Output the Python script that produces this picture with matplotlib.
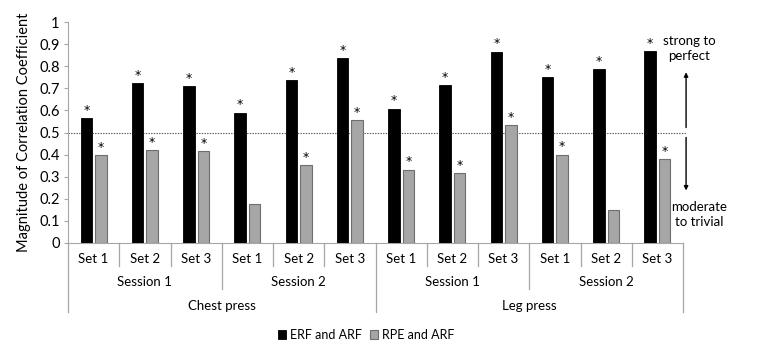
import matplotlib
matplotlib.use("Agg")
import matplotlib.pyplot as plt
from matplotlib import transforms

plt.rcParams['font.family'] = ['Lato', 'DejaVu Sans']

sets = ["Set 1", "Set 2", "Set 3"] * 4
sessions = ["Session 1", "Session 2", "Session 1", "Session 2"]
exercises = ["Chest press", "Leg press"]
erf_arf = [0.565, 0.722, 0.712, 0.590, 0.739, 0.835, 0.608, 0.714, 0.866, 0.749, 0.788, 0.870]
rpe_arf = [0.397, 0.419, 0.416, 0.178, 0.351, 0.556, 0.332, 0.316, 0.533, 0.400, 0.149, 0.381]
erf_sig = [True] * 12
rpe_sig = [True, True, True, False, True, True, True, True, True, True, False, True]
series_names = ["ERF and ARF", "RPE and ARF"]
yticks = [0, 0.1, 0.2, 0.3, 0.4, 0.5, 0.6, 0.7, 0.8, 0.9, 1]
ytick_labels = ["0", "0.1", "0.2", "0.3", "0.4", "0.5", "0.6", "0.7", "0.8", "0.9", "1"]
threshold = 0.5

fig = plt.figure(figsize=(7.61, 3.55), dpi=100)
ax = fig.add_axes([68/761, 1-243/355, 615/761, 221/355])

n = len(erf_arf)
x = list(range(n))
w = 0.225
off = 0.14
gray_line = "#a6a6a6"
b1 = ax.bar([i - off for i in x], erf_arf, width=w, color="black", edgecolor="black", linewidth=0.6, label=series_names[0], zorder=3)
b2 = ax.bar([i + off for i in x], rpe_arf, width=w, color="#a6a6a6", edgecolor="#6f6f6f", linewidth=0.8, label=series_names[1], zorder=3)

for i in x:
    if erf_sig[i]:
        ax.annotate("*", (i - off, erf_arf[i]), xytext=(0, 5.5), textcoords="offset points",
                    ha="center", va="center", fontsize=9, family="DejaVu Sans")
    if rpe_sig[i]:
        ax.annotate("*", (i + off, rpe_arf[i]), xytext=(0, 5.5), textcoords="offset points",
                    ha="center", va="center", fontsize=9, family="DejaVu Sans")

ax.set_xlim(-0.5, n - 0.5)
ax.set_ylim(0, 1)
ax.set_yticks(yticks)
ax.set_yticklabels(ytick_labels, fontsize=10.5)
ax.set_xticks([])
ax.tick_params(axis="y", length=3, color=gray_line, pad=3)
for s in ["top", "right"]:
    ax.spines[s].set_visible(False)
ax.spines["left"].set_color(gray_line)
ax.spines["bottom"].set_color(gray_line)
ax.set_ylabel("Magnitude of Correlation Coefficient", fontsize=10.5, labelpad=6)

# threshold line
ax.plot([-0.5, n - 0.44], [threshold, threshold], ls=(0, (1.2, 1.2)), color="#555555", lw=0.8, clip_on=False, zorder=2)

# arrows
ax.annotate("", xy=(n - 0.44, 0.785), xytext=(n - 0.44, 0.51),
            arrowprops=dict(arrowstyle="-|>", color="black", lw=1, mutation_scale=6), annotation_clip=False)
ax.annotate("", xy=(n - 0.44, 0.225), xytext=(n - 0.44, 0.49),
            arrowprops=dict(arrowstyle="-|>", color="black", lw=1, mutation_scale=6), annotation_clip=False)
ax.text(n - 0.38, 0.878, "strong to\nperfect", ha="center", va="center", fontsize=9.5, linespacing=1.3)
ax.text(n - 0.19, 0.13, "moderate\nto trivial", ha="center", va="center", fontsize=9.5, linespacing=1.3)

# category table
trans = transforms.blended_transform_factory(ax.transData, ax.transAxes)
set_end = -23/221
ses_end = -46/221
out_end = -69/221
for k in range(n + 1):
    if k % 6 == 0:
        end = out_end
    elif k % 3 == 0:
        end = ses_end
    else:
        end = set_end
    ax.plot([k - 0.5, k - 0.5], [0, end], color=gray_line, lw=0.9, transform=trans, clip_on=False)
for i in x:
    ax.text(i, -16/221, sets[i], transform=trans, ha="center", va="center", fontsize=9.5)
for j, s in enumerate(sessions):
    ax.text(3 * j + 1, -39/221, s, transform=trans, ha="center", va="center", fontsize=9.5)
for j, s in enumerate(exercises):
    ax.text(6 * j + 2.5, -63/221, s, transform=trans, ha="center", va="center", fontsize=9.5)

fig.legend(handles=[b1, b2], labels=series_names, loc="center", bbox_to_anchor=(366/761, 1-335/355),
           ncol=2, frameon=False, fontsize=9, handlelength=0.7, handleheight=0.7, handletextpad=0.3,
           columnspacing=0.6)

fig.savefig("out.png", dpi=100)
